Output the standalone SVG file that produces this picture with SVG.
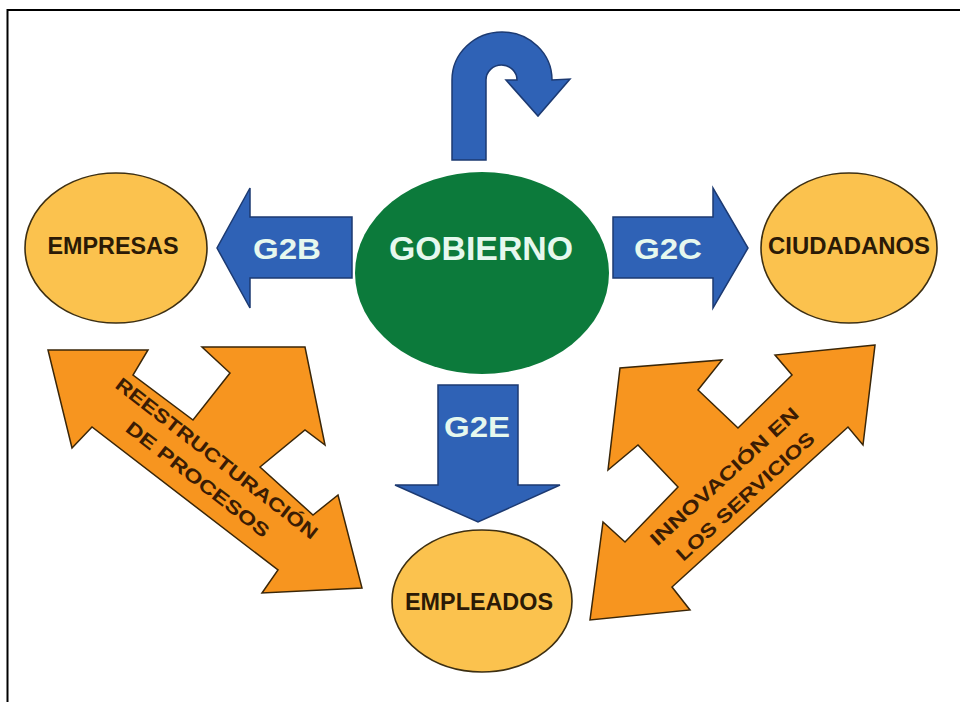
<svg xmlns="http://www.w3.org/2000/svg" width="960" height="702" viewBox="0 0 960 702">
<style>
.blue{fill:#2f62b6;stroke:#1c3a72;stroke-width:1.5;stroke-linejoin:miter}
.orange{fill:#f7951f;stroke:#3a2608;stroke-width:1.5;stroke-linejoin:miter}
.node{fill:#fbc24e;stroke:#3d2f12;stroke-width:1.6}
.gov{fill:#0c7a3b}
.lbl{font-family:"Liberation Sans",Arial,sans-serif;font-weight:bold;fill:#2b1a06;text-anchor:middle}
.wl{font-family:"Liberation Sans",Arial,sans-serif;font-weight:bold;fill:#e6f8ee;text-anchor:middle}
.ol{font-family:"Liberation Sans",Arial,sans-serif;font-weight:bold;fill:#3a1c04;text-anchor:middle;font-size:19px}
</style>
<rect x="0" y="0" width="960" height="702" fill="#ffffff"/>
<path d="M7.5,702 L7.5,10 L960,10" fill="none" stroke="#000" stroke-width="2"/>
<g id="connectors">
  <path id="uturn" class="blue" d="M452,160 L452,80 A50,48 0 0 1 552,80 L570,79 L538,116 L506,80 L517,80 A15.5,15 0 0 0 486,80 L486,160 Z"/>
  <g id="g2b">
    <polygon class="blue" points="352,217 250,217 250,188 217,248 250,308 250,278 352,278"/>
    <text class="wl" x="287" y="259" font-size="30" textLength="68" lengthAdjust="spacingAndGlyphs">G2B</text>
  </g>
  <g id="g2c">
    <polygon class="blue" points="613,217 713,217 713,188 748,248 713,308 713,278 613,278"/>
    <text class="wl" x="668" y="259" font-size="30" textLength="68" lengthAdjust="spacingAndGlyphs">G2C</text>
  </g>
  <g id="g2e">
    <polygon class="blue" points="438,385 518,385 518,485 560,485 478,522 395,485 438,485"/>
    <text class="wl" x="477" y="437" font-size="29" textLength="66" lengthAdjust="spacingAndGlyphs">G2E</text>
  </g>
  <g id="reestructuracion">
    <polygon class="orange" points="48,350 148,350 133,375 193,420 230,373 202,347 305,347 325,445 305,430 260,467 313,515 338,495 362,588 262,593 278,570 92,427 72,448"/>
    <text class="ol" transform="translate(217,458) rotate(37.8)" x="0" y="7" textLength="250" lengthAdjust="spacingAndGlyphs">REESTRUCTURACIÓN</text>
    <text class="ol" transform="translate(198,479) rotate(37.8)" x="0" y="7" textLength="176" lengthAdjust="spacingAndGlyphs">DE PROCESOS</text>
  </g>
  <g id="innovacion">
    <polygon class="orange" points="875,345 775,355 792,375 738,428 698,390 722,360 620,368 608,470 638,445 678,487 625,542 603,522 590,620 690,610 672,587 848,427 863,445"/>
    <text class="ol" transform="translate(724,476) rotate(-42.5)" x="0" y="7" textLength="194" lengthAdjust="spacingAndGlyphs">INNOVACIÓN EN</text>
    <text class="ol" transform="translate(745,496) rotate(-42.5)" x="0" y="7" textLength="180" lengthAdjust="spacingAndGlyphs">LOS SERVICIOS</text>
  </g>
</g>
<g id="gobierno">
  <ellipse class="gov" cx="482" cy="273" rx="127" ry="101"/>
  <text class="wl" x="481" y="260" font-size="33" textLength="184" lengthAdjust="spacingAndGlyphs">GOBIERNO</text>
</g>
<g id="empresas">
  <ellipse class="node" cx="116" cy="248" rx="91" ry="75"/>
  <text class="lbl" x="113" y="254" font-size="24" textLength="131" lengthAdjust="spacingAndGlyphs">EMPRESAS</text>
</g>
<g id="ciudadanos">
  <ellipse class="node" cx="849" cy="248" rx="88" ry="75"/>
  <text class="lbl" x="849" y="254" font-size="24" textLength="162" lengthAdjust="spacingAndGlyphs">CIUDADANOS</text>
</g>
<g id="empleados">
  <ellipse class="node" cx="482" cy="601" rx="90" ry="71"/>
  <text class="lbl" x="479" y="610" font-size="24" textLength="148" lengthAdjust="spacingAndGlyphs">EMPLEADOS</text>
</g>
</svg>
